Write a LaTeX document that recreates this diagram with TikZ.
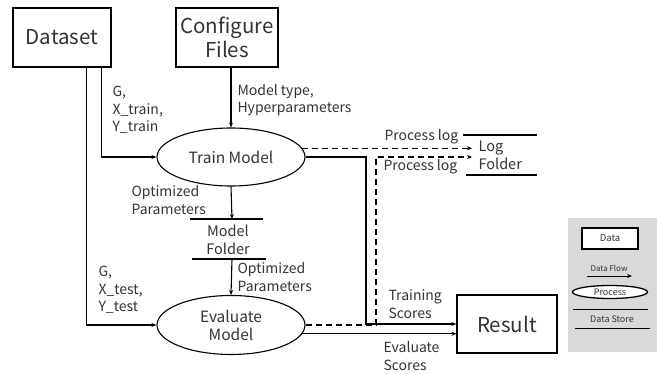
\documentclass[tikz,border=0pt]{standalone}
\usepackage{fontspec}
\setmainfont{Noto Sans CJK JP}
\usetikzlibrary{arrows.meta,shapes.geometric,calc}
\definecolor{legendgray}{HTML}{D9D9D9}
\definecolor{txt}{HTML}{333333}
\begin{document}
\begin{tikzpicture}[x=1pt,y=-1pt,
  line width=1.1pt,
  >={Stealth[length=5pt,width=4pt]},
  bigbox/.style={draw, minimum width=98pt, minimum height=59pt, font=\fontsize{20.5}{24}\selectfont, align=center, inner sep=0pt, text=txt},
  proc/.style={draw, ellipse, minimum width=148pt, minimum height=58pt, inner sep=0pt, font=\fontsize{15.5}{18}\selectfont, align=center, text=txt},
  lbl/.style={font=\fontsize{14}{17.5}\selectfont, align=left, anchor=west, inner sep=0pt, text=txt},
  store/.style={font=\fontsize{14.5}{18}\selectfont, align=center, inner sep=0pt, text=txt},
  flow/.style={->},
  dflow/.style={->, dash pattern=on 6pt off 4pt},
]
\useasboundingbox (0,0) rectangle (657,374);

% main nodes
\node[bigbox] (dataset) at (62,37.5) {Dataset};
\node[bigbox, minimum width=102pt] (config) at (227,37.5) {Configure\\Files};
\node[proc] (train) at (231,157) {Train Model};
\node[proc, minimum height=59pt] (eval) at (231,325) {Evaluate\\Model};
\node[bigbox, minimum width=100pt, minimum height=58pt] (result) at (507,324) {Result};

% model folder (data store)
\node[store] (mf) at (228,239.5) {Model\\Folder};
\draw (190,219) -- (263,219);
\draw (192,259) -- (266,259);
\coordinate (mftop) at (232,219);
\coordinate (mfbot) at (232,259);

% log folder (data store)
\node[store, anchor=west, align=left] (lf) at (478,155.5) {Log\\Folder};
\draw (463,135) -- (537,135);
\draw (466,175) -- (537,175);
\coordinate (lg1) at (472,148);
\coordinate (lg2) at (472,157);

% connectors
\draw[flow] ($(dataset.south east)+(-10,0)$) |- (train.west);
\draw[flow] ($(dataset.south east)+(-25,0)$) |- (eval.west);
\draw[flow] (config.south -| train.north) -- (train.north);
\draw[flow] (train.south) -- (mftop);
\draw[flow] (mfbot) -- (eval.north);
\draw[dflow] (train.7) -- (train.7 -| lg1);
\coordinate (j1) at (366,157);
\draw[flow] (train.east) -- (j1) |- (result.west);
\coordinate (j2) at (376,325);
\draw[dflow] (eval.east) -- (j2) |- (lg2);
\draw[flow] (eval.-7) -- (eval.-7 -| result.west);

% labels
\node[lbl] (l1) at (112,110) {G,\\X\_train,\\Y\_train};
\node[lbl] (l2) at (237,100) {Model type,\\Hyperparameters};
\node[lbl] (l3) at (131,200) {Optimized\\Parameters};
\node[lbl] (l4) at (237,277) {Optimized\\Parameters};
\node[lbl] (l5) at (98,290) {G,\\X\_test,\\Y\_test};
\node[lbl] (l6) at (384,137) {Process log};
\node[lbl] (l7) at (383,167) {Process log};
\node[lbl] (l8) at (388,304) {Training\\Scores};
\node[lbl] (l9) at (383,356) {Evaluate\\Scores};

% legend
\fill[legendgray] (568,218) rectangle (657,352);
\node[draw, fill=white, minimum width=56pt, minimum height=21pt, inner sep=0pt, font=\fontsize{9.5}{11}\selectfont, line width=1.3pt, text=txt] (lgdata) at (610,238.5) {Data};
\node[font=\fontsize{8}{10}\selectfont, text=txt, inner sep=0pt] (lgflow) at (609,268) {Data Flow};
\coordinate (lf1) at (587,276);
\coordinate (lf2) at (632,276);
\draw[flow, line width=0.9pt] (lf1) -- (lf2);
\node[draw, ellipse, fill=white, minimum width=75pt, minimum height=13pt, inner sep=0pt, font=\fontsize{9}{10}\selectfont, line width=1.3pt, text=txt] (lgproc) at (610,292) {Process};
\node[font=\fontsize{9}{10}\selectfont, text=txt, inner sep=0pt] (lgstore) at (612,319) {Data Store};
\draw[line width=0.9pt] (573,309) -- (648,309);
\draw[line width=0.9pt] (575,328) -- (650,328);
\end{tikzpicture}
\end{document}
